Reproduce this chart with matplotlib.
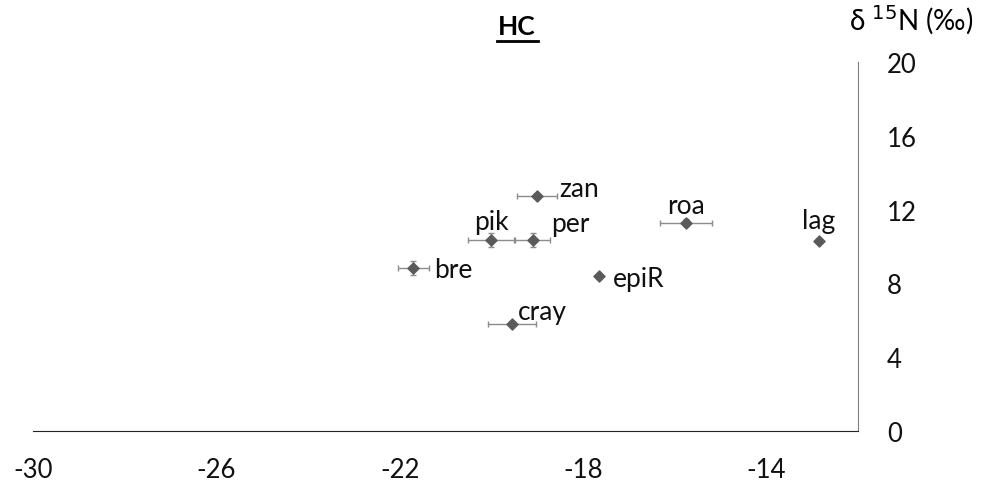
import matplotlib.pyplot as plt
from matplotlib.lines import Line2D

# species isotope means and errors
names = ['zan', 'pik', 'per', 'bre', 'epiR', 'cray', 'roa', 'lag']
d13c = [-19.0, -20.0, -19.1, -21.7, -17.65, -19.55, -15.75, -12.85]
d15n = [12.75, 10.35, 10.35, 8.85, 8.4, 5.8, 11.3, 10.3]
d13c_err = [0.44, 0.5, 0.38, 0.34, 0.0, 0.52, 0.56, 0.0]
d15n_err = [0.1, 0.4, 0.36, 0.38, 0.0, 0.1, 0.2, 0.0]
# label offsets in points
offsets = [(16, 5), (0, 13), (27, 12), (15, -1), (10, -2), (22, 9), (0, 12), (0, 15)]
aligns = ['left', 'center', 'center', 'left', 'left', 'center', 'center', 'center']

xticks = [-30, -26, -22, -18, -14]
yticks = [0, 4, 8, 12, 16, 20]

plt.rcParams['font.family'] = ['Lato', 'DejaVu Sans']
plt.rcParams['axes.unicode_minus'] = False

fig = plt.figure(figsize=(9.9, 4.89), dpi=100)
ax = fig.add_axes([33/990, 57/489, 825/990, 369/489])

ax.errorbar(d13c, d15n, xerr=d13c_err, yerr=d15n_err, fmt='none',
            ecolor='#8c8c8c', elinewidth=1, capsize=2.5, capthick=1)
ax.scatter(d13c, d15n, marker='D', s=32, color='#5a5a5a', zorder=3)

for n, x, y, off, ha in zip(names, d13c, d15n, offsets, aligns):
    ax.annotate(n, (x, y), xytext=off, textcoords='offset points',
                ha=ha, va='center', fontsize=19, color='#111111')

ax.set_xlim(-30, -12)
ax.set_ylim(0, 20)
ax.set_xticks(xticks)
ax.set_yticks(yticks)
ax.yaxis.tick_right()
ax.tick_params(axis='both', length=0, labelsize=18.5, colors='#111111')
ax.tick_params(axis='x', pad=19)
ax.tick_params(axis='y', pad=21)
for lab in ax.get_yticklabels():
    lab.set_horizontalalignment('left')

ax.spines['top'].set_visible(False)
ax.spines['left'].set_visible(False)
ax.spines['bottom'].set_color('#222222')
ax.spines['right'].set_color('#7f7f7f')

fig.text(517/990, 1 - 27/489, 'HC', ha='center', va='center',
         fontsize=19, fontweight='bold')
fig.add_artist(Line2D([497/990, 538/990], [1 - 42/489, 1 - 42/489],
                      color='black', lw=2))
fig.text(911/990, 1 - 20/489, r'δ $^{15}$N (‰)', ha='center', va='center',
         fontsize=20)

fig.savefig('out.png')
